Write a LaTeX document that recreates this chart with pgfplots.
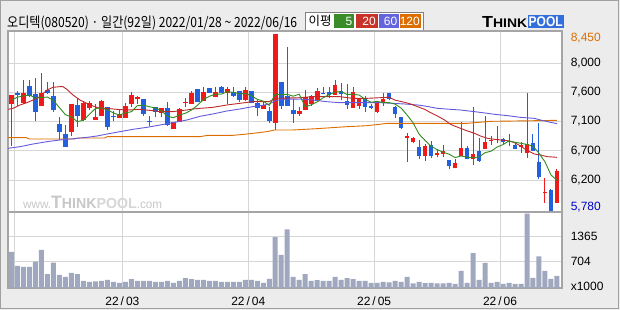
\documentclass[border=0pt]{standalone}
\usepackage{fontspec}
\setmainfont{Liberation Sans}
\newfontfamily\kr{Noto Sans CJK KR}
\usepackage{graphicx}
\usepackage{pgfplots}
\usepackage{pgfplotstable}
\pgfplotsset{compat=1.18}
\definecolor{bgc}{RGB}{236,236,236}
\definecolor{framec}{RGB}{160,160,160}
\definecolor{axc}{RGB}{165,165,165}
\definecolor{gridc}{RGB}{214,214,214}
\definecolor{upc}{RGB}{240,26,26}
\definecolor{dnc}{RGB}{34,96,222}
\definecolor{ma5}{RGB}{50,140,30}
\definecolor{ma20}{RGB}{190,40,40}
\definecolor{ma60}{RGB}{100,90,220}
\definecolor{ma120}{RGB}{220,110,0}
\definecolor{lg5}{RGB}{58,140,40}
\definecolor{lg20}{RGB}{200,50,40}
\definecolor{lg60}{RGB}{100,100,220}
\definecolor{lg120}{RGB}{220,110,0}
\definecolor{volc}{RGB}{160,168,192}
\definecolor{hic}{RGB}{220,110,0}
\definecolor{loc}{RGB}{0,0,200}
\definecolor{logob}{RGB}{50,110,220}
\definecolor{wmc}{RGB}{200,200,200}

% candles: index, open, high, low, close
\pgfplotstableread{
i o h l c
0 7392 7528 6758 7528
2 7402 7755 7392 7563
5 7362 7856 7362 7563
10 6974 7392 6909 7392
12 7151 7438 7140 7412
13 7337 7438 7302 7412
14 7151 7392 7151 7191
15 7211 7453 7211 7443
18 7186 7302 7176 7241
19 7186 7402 7176 7362
20 7392 7579 7352 7528
21 7463 7518 7392 7503
25 7261 7327 7191 7327
27 7014 7125 7014 7125
28 7125 7327 7120 7317
29 7402 7478 7342 7417
30 7392 7594 7392 7563
32 7443 7644 7443 7568
34 7503 7654 7493 7579
36 7563 7644 7392 7619
39 7453 7644 7443 7604
42 7317 7443 7317 7377
44 7110 8450 6999 8450
48 7241 7352 7211 7286
49 7302 7604 7302 7493
50 7392 7528 7362 7513
51 7453 7629 7443 7589
54 7528 7755 7528 7679
57 7337 7644 7337 7568
58 7367 7488 7317 7468
61 7276 7443 7261 7443
62 7427 7553 7362 7468
66 6873 6949 6521 6914
67 6823 6899 6808 6884
69 6612 6783 6536 6758
71 6627 6712 6586 6657
72 6642 6768 6586 6682
74 6420 6556 6420 6506
75 6607 7115 6607 6732
77 6556 7342 6465 6637
79 6707 7211 6707 6818
80 6828 6909 6773 6848
81 6848 7060 6798 6868
85 6748 6818 6657 6773
86 6657 7563 6571 6783
89 6042 6269 5901 6062
91 5901 6405 5901 6380
}\upT

\pgfplotstableread{
i o h l c
1 7563 7589 7362 7523
3 7664 7755 7503 7518
4 7543 7780 7140 7276
6 7604 7720 7543 7563
7 7513 7730 7276 7302
8 7090 7191 6848 6974
9 6939 7075 6748 6748
11 7377 7488 7050 7211
16 7342 7352 6999 7050
17 7206 7286 7140 7196
22 7468 7468 7211 7236
23 7130 7211 7060 7120
24 7342 7342 7191 7276
26 7332 7417 7060 7075
31 7619 7619 7427 7427
33 7634 7634 7553 7563
35 7654 7664 7553 7563
37 7574 7644 7503 7518
38 7589 7589 7427 7453
40 7589 7589 7402 7402
41 7402 7453 7211 7337
43 7286 7352 7110 7135
45 7720 7720 7317 7362
46 7518 8258 7362 7362
47 7302 7463 7110 7241
52 7563 7644 7543 7553
53 7579 7644 7478 7528
55 7589 7715 7453 7543
56 7438 7694 7317 7377
59 7468 7513 7276 7352
60 7362 7392 7312 7327
63 7563 7563 7453 7468
64 7342 7362 7186 7241
65 7191 7201 7014 7035
68 6748 6848 6556 6607
70 6773 6833 6581 6612
73 6546 6546 6405 6460
76 6732 6758 6556 6556
78 6682 6873 6521 6536
82 6868 6884 6788 6818
83 6833 6939 6763 6818
84 6773 6808 6707 6712
87 6798 6944 6687 6687
88 6511 7110 6254 6284
90 6093 6108 5780 5780
}\dnT

\pgfplotstableread{
i v
0 958
1 588
2 561
3 561
4 702
5 1011
6 368
7 676
8 350
9 297
10 403
11 368
12 191
13 165
14 174
15 191
16 218
17 165
18 138
19 165
20 235
21 191
22 191
23 191
24 165
25 165
26 191
27 138
28 191
29 262
30 235
31 218
32 218
33 191
34 191
35 165
36 165
37 165
38 165
39 218
40 218
41 191
42 138
43 244
44 1355
45 879
46 1557
47 297
48 218
49 368
50 191
51 209
52 191
53 191
54 297
55 218
56 262
57 235
58 191
59 191
60 138
61 138
62 165
63 147
64 191
65 165
66 297
67 121
68 165
69 130
70 138
71 121
72 121
73 138
74 112
75 456
76 138
77 931
78 218
79 667
80 138
81 165
82 112
83 138
84 112
85 112
86 1980
87 271
88 843
89 456
90 244
91 323
}\volT

\pgfplotsset{
  panel/.style={
    scale only axis, width=554pt, xmin=-0.584, xmax=91.84,
    axis background/.style={fill=white},
    axis line style={draw=axc, line width=1.2pt},
    xtick={0.5,18.5,39.5,60.5,81.5},
    grid=major, major grid style={draw=gridc, line width=0.9pt},
    major tick length=0pt,
    yticklabel pos=right,
    yticklabel style={anchor=west, inner sep=0pt, xshift=8.6pt, font=\fontsize{12}{12}\selectfont},
    extra y tick style={grid=none},
  },
  wick/.style={draw=none, mark=none, forget plot,
    error bars/.cd, y dir=plus, y explicit, error mark=none,
    error bar style={solid, line width=1pt, draw=#1}},
  body/.style={draw=none, mark=none, forget plot,
    error bars/.cd, y dir=plus, y explicit, error mark=none,
    error bar style={solid, line width=4.6pt, draw=#1}},
}

\begin{document}
\begin{tikzpicture}[x=1pt,y=1pt]
\useasboundingbox (0,0) rectangle (620,310);
\fill[bgc] (0,0) rectangle (620,310);
\draw[framec, line width=1pt] (0.5,1.5) rectangle (618.5,309.5);

% title
\node[anchor=base west, inner sep=0pt] at (7,282.5)
  {\resizebox{290pt}{\height}{\kr\fontsize{14}{16}\selectfont 오디텍(080520) · 일간(92일) 2022/01/28 \~{} 2022/06/16}};

% MA legend box
\draw[fill=white, draw=gray, line width=0.8pt] (305,298) rectangle (423,280);
\node[anchor=center, inner sep=0pt] at (320,289) {\kr\fontsize{12.5}{13}\selectfont 이평};
\fill[lg5] (334,296) rectangle (354,282);
\fill[lg20] (356,296) rectangle (377.5,282);
\fill[lg60] (378.5,296) rectangle (399,282);
\fill[lg120] (400,296) rectangle (421,282);
\node[anchor=east, inner sep=0pt, white] at (352.5,289) {\fontsize{12}{12}\selectfont 5};
\node[anchor=east, inner sep=0pt, white] at (376,289) {\fontsize{12}{12}\selectfont 20};
\node[anchor=east, inner sep=0pt, white] at (397.5,289) {\fontsize{12}{12}\selectfont 60};
\node[anchor=east, inner sep=0pt, white] at (420,289) {\fontsize{12}{12}\selectfont 120};

% logo
\node[anchor=base west, inner sep=0pt] at (482,282.5)
  {\resizebox{45pt}{\height}{\bfseries\fontsize{16}{16}\selectfont T\fontsize{12.5}{12}\selectfont HINK}};
\fill[logob] (527.5,295) rectangle (564,282);
\node[anchor=center, inner sep=0pt, white] at (545.7,288.5)
  {\resizebox{34pt}{\height}{\bfseries\fontsize{14}{14}\selectfont POOL}};

% price panel
\begin{axis}[panel, at={(8pt,98pt)}, anchor=south west, height=181pt,
  ymin=5760, ymax=8495,
  ytick={8012,7570,7128,6686,6244},
  yticklabels={{8,000},{7,600},{7,100},{6,700},{6,200}},
  extra y ticks={8390,5840},
  extra y tick labels={{\textcolor{hic}{8,450}},{\textcolor{loc}{5,780}}},
  xticklabels={}]
\addplot[wick=upc] table[x=i, y=l, y error plus expr=\thisrow{h}-\thisrow{l}] {\upT};
\addplot[body=upc] table[x=i, y=o, y error plus expr=\thisrow{c}-\thisrow{o}] {\upT};
\addplot[wick=dnc] table[x=i, y=l, y error plus expr=\thisrow{h}-\thisrow{l}] {\dnT};
\addplot[body=dnc] table[x=i, y=c, y error plus expr=\thisrow{o}-\thisrow{c}] {\dnT};
% 120 MA
\addplot[ma120, line width=0.9pt, mark=none] coordinates {(-0.6,6883) (2.5,6883) (3,6863) (10.5,6863) (11,6878) (15.5,6878) (16,6898) (31.4,6898) (32.75,6918) (36.9,6918) (39.25,6938) (42.6,6974) (43.9,6999) (46.9,6999) (50.9,7019) (55.9,7049) (59.25,7064) (61.4,7085) (62.75,7100) (76.1,7100) (79.9,7130) (83.9,7135) (91,7145)};
% 60 MA
\addplot[ma60, line width=0.9pt, mark=none] coordinates {(-0.6,6722) (1.42,6747) (3.58,6787) (5.92,6823) (8.08,6848) (10.92,6873) (12.58,6888) (14.25,6908) (15.92,6938) (18.08,6974) (20.25,7009) (22.58,7039) (24.75,7074) (26.92,7110) (29.25,7150) (31.42,7205) (33.58,7241) (35.92,7286) (38.08,7316) (40.25,7352) (41.92,7372) (43,7392) (44,7440) (45,7462) (48.08,7467) (50.25,7452) (52.58,7427) (54.75,7412) (61.42,7412) (63.58,7402) (65.58,7392) (67.75,7377) (68.92,7362) (71.08,7326) (73.25,7311) (74.92,7301) (77.25,7276) (79.42,7251) (80.58,7236) (82.75,7216) (84.92,7190) (87.25,7175) (88.25,7150) (89.42,7125) (91,7095)};
% 20 MA
\addplot[ma20, line width=0.9pt, mark=none] coordinates {(-0.6,7311) (0.25,7326) (1.42,7377) (2.58,7412) (3.58,7452) (4.75,7503) (5.92,7603) (6.92,7644) (8.08,7654) (8.58,7654) (9.25,7613) (10.25,7528) (11.42,7452) (12.58,7402) (13.58,7362) (14.75,7326) (15.92,7326) (17.58,7311) (19.25,7301) (21.42,7311) (23.58,7291) (24.75,7276) (26.92,7276) (28.08,7291) (29.25,7301) (30.25,7316) (31.42,7326) (33.58,7341) (35.92,7377) (38.08,7402) (40.25,7427) (43,7427) (44,7477) (48.08,7487) (50.25,7503) (54.75,7503) (56.92,7477) (59.25,7477) (61.42,7487) (63,7493) (64,7450) (65.58,7417) (66.58,7392) (67.75,7352) (68.92,7311) (69.92,7261) (71.08,7210) (72.25,7150) (73.25,7085) (73.92,7059) (74.92,7024) (76.08,6984) (77.25,6949) (78.25,6908) (79.42,6873) (80.58,6858) (81.58,6848) (82.75,6838) (83.92,6808) (84.92,6757) (86.08,6687) (87.25,6636) (88.25,6621) (89.42,6596) (91,6586)};
% 5 MA
\addplot[ma5, line width=0.9pt, mark=none] coordinates {(0,7452) (1,7495) (2,7515) (3,7528) (4,7482) (5,7489) (6,7497) (7,7444) (8,7336) (9,7230) (10,7196) (11,7125) (12,7147) (13,7235) (14,7324) (15,7334) (16,7302) (17,7258) (18,7224) (19,7258) (20,7275) (21,7366) (22,7374) (23,7350) (24,7333) (25,7292) (26,7207) (27,7185) (28,7224) (29,7252) (30,7299) (31,7370) (32,7458) (33,7508) (34,7540) (35,7540) (36,7578) (37,7568) (38,7546) (39,7551) (40,7519) (41,7463) (42,7435) (43,7371) (44,7540) (45,7532) (46,7537) (47,7510) (48,7540) (49,7349) (50,7379) (51,7424) (52,7487) (53,7535) (54,7572) (55,7578) (56,7536) (57,7539) (58,7527) (59,7462) (60,7418) (61,7432) (62,7412) (63,7412) (64,7389) (65,7331) (66,7225) (67,7108) (68,6936) (69,6840) (70,6755) (71,6704) (72,6663) (73,6634) (74,6583) (75,6607) (76,6587) (77,6578) (78,6593) (79,6656) (80,6679) (81,6741) (82,6778) (83,6834) (84,6813) (85,6798) (86,6781) (87,6755) (88,6648) (89,6518) (90,6319) (91,6239)};
\end{axis}

% watermark
\node[anchor=base west, inner sep=0pt] at (23,101.5)
  {\resizebox{139pt}{\height}{\color{wmc}\fontsize{12}{12}\selectfont www.\bfseries\fontsize{18}{18}\selectfont T\fontsize{14.5}{14}\selectfont HINK\color{wmc!75}POOL\mdseries\color{wmc}\fontsize{12}{12}\selectfont .com}};

% volume panel
\begin{axis}[panel, at={(8pt,22pt)}, anchor=south west, height=76pt,
  ymin=0, ymax=2022,
  ytick={704,1365}, yticklabels={704,1365},
  extra y ticks={40}, extra y tick labels={x1000},
  xticklabels={,{22\,/\,03},{22\,/\,04},{22\,/\,05},{22\,/\,06}},
  xticklabel style={anchor=base, inner sep=0pt, yshift=-17.5pt, font=\fontsize{12}{12}\selectfont}]
\addplot[ybar, bar width=5pt, bar shift=0pt, fill=volc, draw=none] table[x=i, y=v] {\volT};
\end{axis}
\end{tikzpicture}
\end{document}
